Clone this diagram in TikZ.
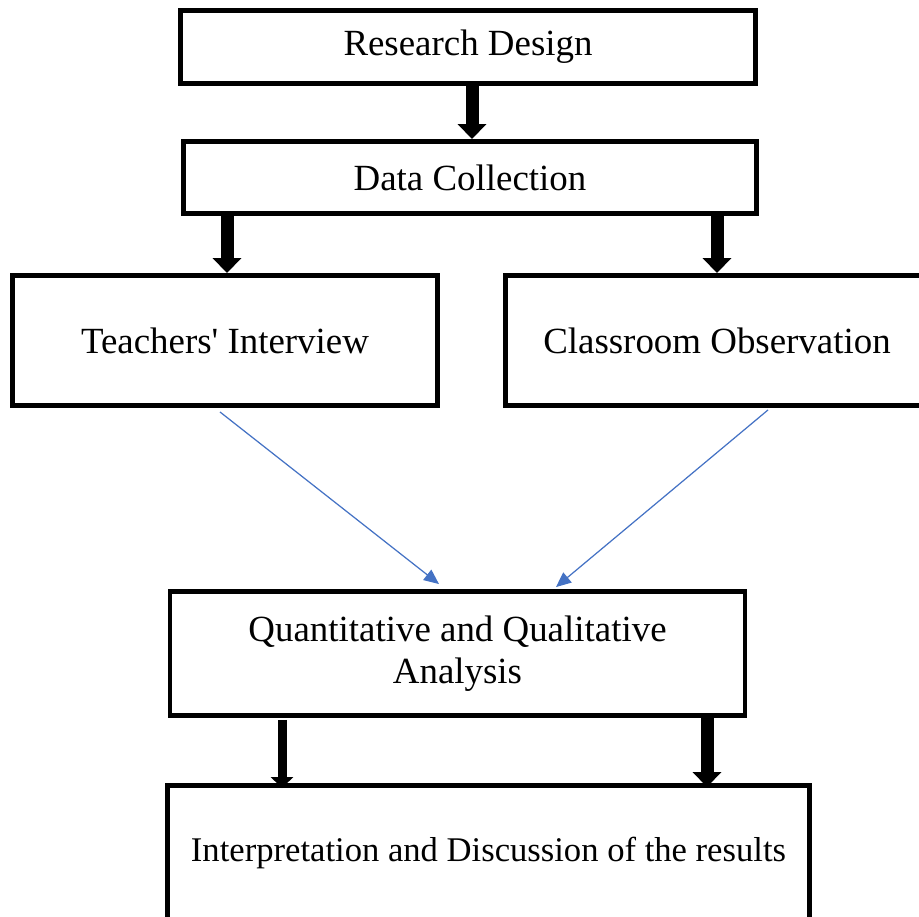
\documentclass[tikz,border=0pt]{standalone}
\usepackage{fontspec}
\setmainfont{Liberation Serif}[Ligatures=TeXOff]
\usetikzlibrary{arrows.meta}
\definecolor{flowblue}{HTML}{4472C4}

\begin{document}
\begin{tikzpicture}[
  stage/.style={draw, line width=2.8pt, align=center, inner sep=0pt,
    font=\fontsize{21}{24}\selectfont},
  bigarrow/.style={-{Triangle[length=0.3cm, width=0.56cm]}, line width=0.26cm},
  thinarrow/.style={-{Triangle[length=0.22cm, width=0.44cm]}, line width=0.18cm},
  flow/.style={-{Triangle[length=0.3cm, width=0.26cm]}, line width=0.7pt, flowblue}
]
  \useasboundingbox (0,0) rectangle (18.38,-18.32);
  \clip (0,0) rectangle (18.38,-18.32);

  % Stages
  \node[stage, minimum width=11.5cm, minimum height=1.46cm] (design) at (9.36,-0.94) {Research Design};
  \node[stage, minimum width=11.45cm, minimum height=1.44cm] (data) at (9.40,-3.55) {Data Collection};
  \node[stage, minimum width=8.49cm, minimum height=2.6cm] (teach) at (4.50,-6.81) {Teachers' Interview};
  \node[stage, minimum width=8.46cm, minimum height=2.6cm] (observ) at (14.34,-6.81) {Classroom Observation};
  \node[stage, minimum width=11.5cm, minimum height=2.48cm] (analysis) at (9.15,-13.07)
    {Quantitative and Qualitative\\Analysis};
  \node[stage, minimum width=12.85cm, minimum height=2.7cm, font=\fontsize{19.7}{24}\selectfont]
    (result) at (9.77,-17.06) {Interpretation and Discussion of the results};

  % Black arrows
  \draw[bigarrow] ([xshift=0.08cm]design.south) -- ([xshift=0.08cm]design.south |- data.north);
  \draw[bigarrow] ([xshift=0.04cm]teach.north |- data.south) -- ([xshift=0.04cm]teach.north);
  \draw[bigarrow] (observ.north |- data.south) -- (observ.north);
  \draw[thinarrow] ([xshift=-3.51cm,yshift=-0.04cm]analysis.south)
    -- ([xshift=-3.51cm,yshift=-0.1cm]analysis.south |- result.north);
  \draw[bigarrow] ([xshift=4.99cm]analysis.south)
    -- ([xshift=4.99cm,yshift=-0.08cm]analysis.south |- result.north);

  % Blue arrows
  \draw[flow] ([xshift=-0.1cm,yshift=-0.08cm]teach.south) -- ([xshift=-0.37cm,yshift=0.1cm]analysis.north);
  \draw[flow] ([xshift=1.02cm,yshift=-0.04cm]observ.south) -- ([xshift=1.97cm,yshift=0.04cm]analysis.north);
\end{tikzpicture}
\end{document}
